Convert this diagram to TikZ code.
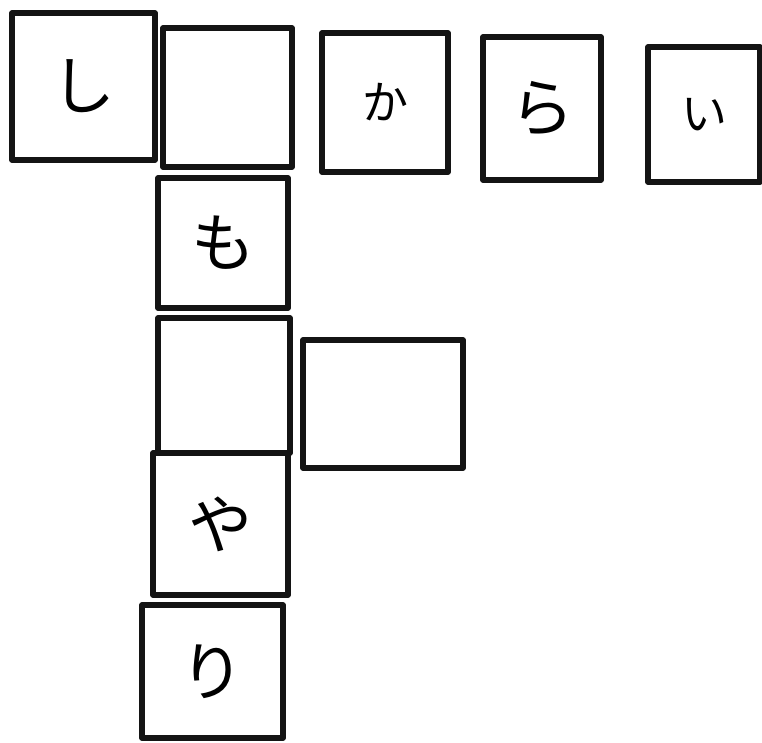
\documentclass[tikz,border=0pt]{standalone}
\usepackage{fontspec}
\newfontfamily\jpfont{Noto Sans CJK JP}
\begin{document}
\begin{tikzpicture}[x=1pt,y=-1pt]

% ---------------------------------------------------------------- styles
\tikzset{
  cell/.style  = {rectangle, draw=black!92, line width=5.5pt, line join=round,
                  inner sep=0pt, fill=white,
                  font=\jpfont\fontsize{64}{64}\selectfont},
  kanasm/.style = {font=\jpfont\fontsize{46}{46}\selectfont},
}

\useasboundingbox (0,0) rectangle (762,743);

% ================================================================ top row
\node[cell, minimum width=143, minimum height=147] (shi) at (83.5, 86.5) {し};
\node[cell, minimum width=129, minimum height=139] (e1)  at (227.5, 97.5) {};
\node[cell, kanasm, minimum width=126, minimum height=139] (ka) at (385,102.5) {か};
\node[cell, minimum width=118, minimum height=143] (ra)  at (542,108.5) {ら};
\node[cell, kanasm, minimum width=112, minimum height=135] (i) at (704,114.5) {い};

% ========================================================== down column
\node[cell, minimum width=130, minimum height=130] (mo) at (223,243) {も};
\node[cell, minimum width=132, minimum height=135] (e2) at (224,385.5) {};
\node[cell, minimum width=160, minimum height=128] (e3) at (383,404) {};
\node[cell, minimum width=135, minimum height=142] (ya) at (220.5,524) {や};
\node[cell, minimum width=141, minimum height=133] (ri) at (212.5,671.5) {り};

\end{tikzpicture}
\end{document}
